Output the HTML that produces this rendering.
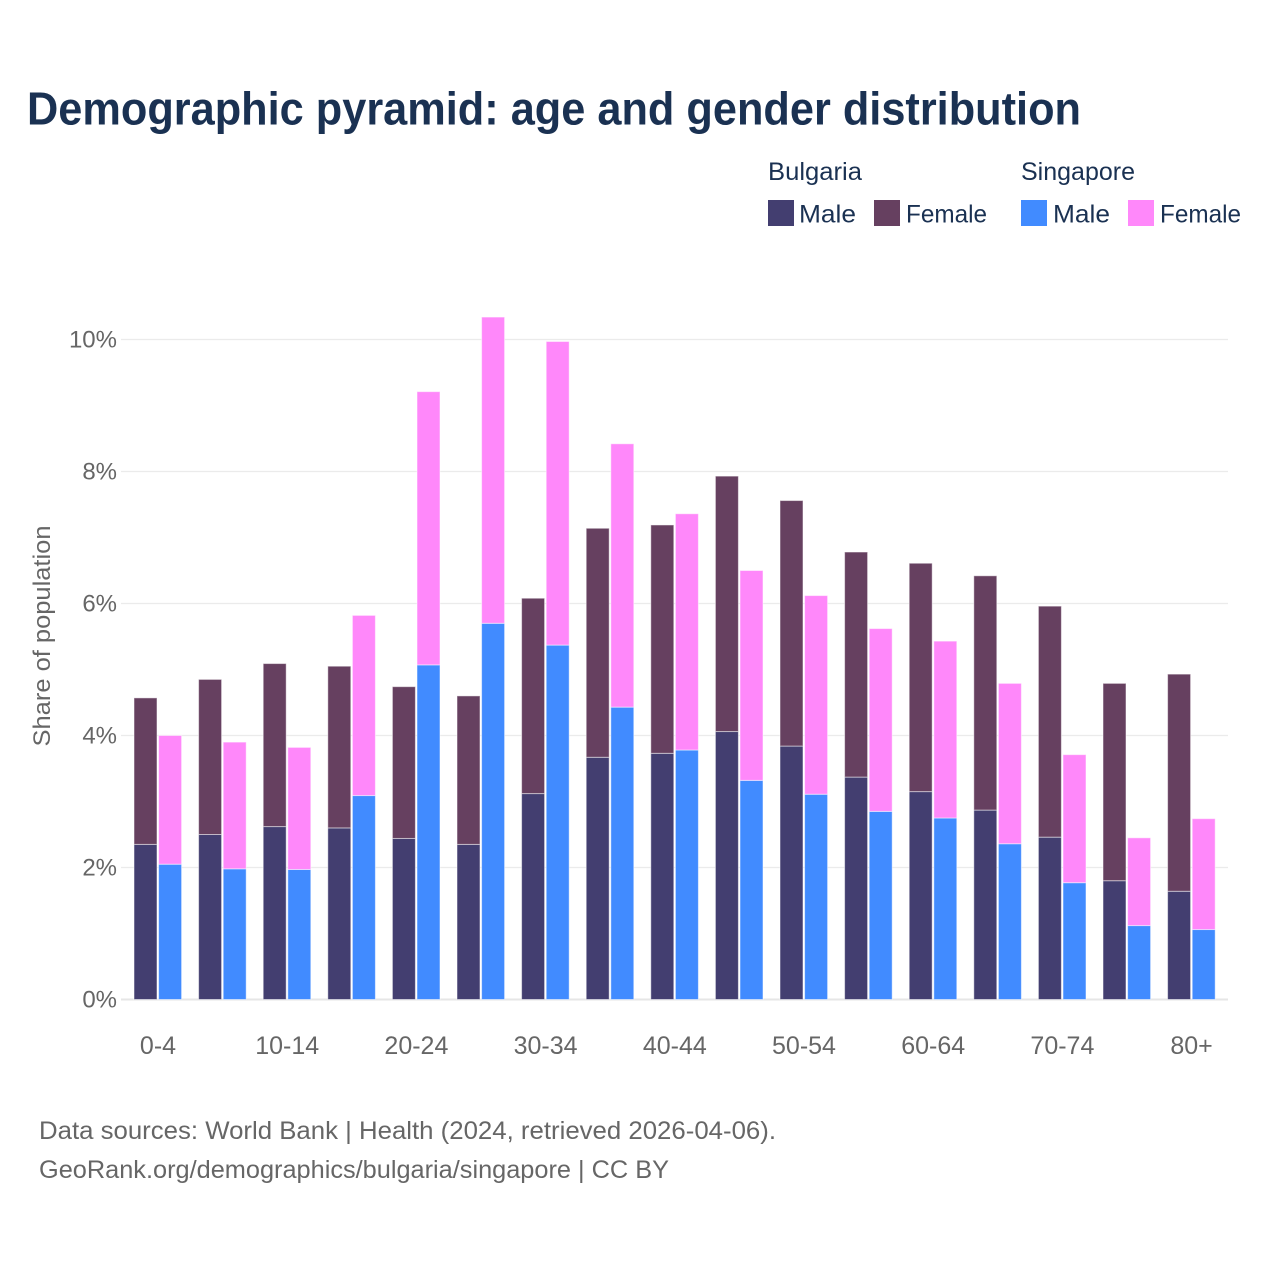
<!DOCTYPE html>
<html lang="en">
<head>
<meta charset="utf-8">
<title>Demographic pyramid: age and gender distribution</title>
<style>
html,body{margin:0;padding:0;background:#fff;}
svg{display:block;}
text{font-family:"Liberation Sans",sans-serif;}
</style>
</head>
<body>
<svg id="chart" xmlns="http://www.w3.org/2000/svg" width="1280" height="1280" viewBox="0 0 1280 1280">
  <rect x="0" y="0" width="1280" height="1280" fill="#ffffff"/>
  <text x="27" y="124.5" font-size="46" font-weight="700" fill="#1a3152" textLength="1054" lengthAdjust="spacingAndGlyphs">Demographic pyramid: age and gender distribution</text>

  <g>
    <text x="768" y="180" font-size="25" fill="#1a3152" textLength="94" lengthAdjust="spacingAndGlyphs">Bulgaria</text>
    <text x="1021" y="180" font-size="25" fill="#1a3152" textLength="114" lengthAdjust="spacingAndGlyphs">Singapore</text>
    <rect x="768" y="200" width="26" height="26" fill="#433e70"/>
    <text x="799" y="222.5" font-size="25" fill="#1a3152" textLength="57" lengthAdjust="spacingAndGlyphs">Male</text>
    <rect x="874" y="200" width="26" height="26" fill="#664060"/>
    <text x="906" y="222.5" font-size="25" fill="#1a3152" textLength="81" lengthAdjust="spacingAndGlyphs">Female</text>
    <rect x="1021" y="200" width="26" height="26" fill="#418bff"/>
    <text x="1053" y="222.5" font-size="25" fill="#1a3152" textLength="57" lengthAdjust="spacingAndGlyphs">Male</text>
    <rect x="1128" y="200" width="26" height="26" fill="#ff88fa"/>
    <text x="1160" y="222.5" font-size="25" fill="#1a3152" textLength="81" lengthAdjust="spacingAndGlyphs">Female</text>
  </g>

  <g id="grid"></g>
  <g id="bars"></g>
  <g id="ylabels"></g>
  <g id="xlabels"></g>

  <text transform="translate(50,636) rotate(-90)" text-anchor="middle" font-size="24" fill="#666666" textLength="221" lengthAdjust="spacingAndGlyphs">Share of population</text>

  <text x="39" y="1139" font-size="25" fill="#666666" textLength="737" lengthAdjust="spacingAndGlyphs">Data sources: World Bank | Health (2024, retrieved 2026-04-06).</text>
  <text x="39" y="1178" font-size="25" fill="#666666" textLength="630" lengthAdjust="spacingAndGlyphs">GeoRank.org/demographics/bulgaria/singapore | CC BY</text>
</svg>
<script>
const categories = ['0-4','5-9','10-14','15-19','20-24','25-29','30-34','35-39','40-44','45-49','50-54','55-59','60-64','65-69','70-74','75-79','80+'];
const shownCategories = ['0-4','10-14','20-24','30-34','40-44','50-54','60-64','70-74','80+'];
const bulgariaMale = [2.35,2.50,2.62,2.60,2.44,2.35,3.12,3.67,3.73,4.06,3.84,3.37,3.15,2.87,2.46,1.80,1.64];
const bulgariaFemale = [2.22,2.35,2.47,2.45,2.30,2.25,2.96,3.47,3.46,3.87,3.72,3.41,3.46,3.55,3.50,2.99,3.29];
const singaporeMale = [2.05,1.98,1.97,3.09,5.07,5.70,5.37,4.43,3.78,3.32,3.11,2.85,2.75,2.36,1.77,1.12,1.06];
const singaporeFemale = [1.95,1.92,1.85,2.73,4.14,4.64,4.60,3.99,3.58,3.18,3.01,2.77,2.68,2.43,1.94,1.33,1.68];
const yTicks = [0,2,4,6,8,10];

const SVGNS = 'http://www.w3.org/2000/svg';
const yScale = v => 999.5 - v * 66;
const xScale = i => 134 + i * 64.6;
const barWidth = 23;
const barGap = 24.6;

const gridG = document.getElementById('grid');
const ylabG = document.getElementById('ylabels');
yTicks.forEach(t => {
  const l = document.createElementNS(SVGNS, 'line');
  
  
  l.setAttribute('x1', 121);
  l.setAttribute('x2', 1228);
  l.setAttribute('y1', yScale(t));
  l.setAttribute('y2', yScale(t));
  l.setAttribute('stroke', t === 0 ? '#e6e6e6' : '#ebebeb');
  l.setAttribute('stroke-width', t === 0 ? 2 : 1.2);
  gridG.appendChild(l);
  const tx = document.createElementNS(SVGNS, 'text');
  
  
  tx.setAttribute('x', 117);
  tx.setAttribute('y', yScale(t) + 8);
  tx.setAttribute('text-anchor', 'end');
  tx.setAttribute('font-size', 24);
  tx.setAttribute('fill', '#666666');
  tx.textContent = t + '%';
  ylabG.appendChild(tx);
});

const barsG = document.getElementById('bars');
function drawBar(x, base, val, color, name) {
  const r = document.createElementNS(SVGNS, 'rect');
  
  
  r.setAttribute('x', x);
  r.setAttribute('y', yScale(base + val));
  r.setAttribute('width', barWidth);
  r.setAttribute('height', yScale(base) - yScale(base + val));
  r.setAttribute('fill', color);
  r.setAttribute('stroke', '#ffffff');
  r.setAttribute('stroke-opacity', '0.5');
  r.setAttribute('stroke-width', 1);
  barsG.appendChild(r);
}
categories.forEach((c, i) => {
  const x = xScale(i);
  drawBar(x, 0, bulgariaMale[i], '#433e70', 'bar-bulgaria-male');
  drawBar(x, bulgariaMale[i], bulgariaFemale[i], '#664060', 'bar-bulgaria-female');
  drawBar(x + barGap, 0, singaporeMale[i], '#418bff', 'bar-singapore-male');
  drawBar(x + barGap, singaporeMale[i], singaporeFemale[i], '#ff88fa', 'bar-singapore-female');
});

const xlabG = document.getElementById('xlabels');
categories.forEach((c, i) => {
  if (shownCategories.indexOf(c) < 0) return;
  const tx = document.createElementNS(SVGNS, 'text');
  
  
  tx.setAttribute('x', xScale(i) + 24);
  tx.setAttribute('y', 1054);
  tx.setAttribute('text-anchor', 'middle');
  tx.setAttribute('font-size', 25);
  tx.setAttribute('fill', '#666666');
  tx.textContent = c;
  xlabG.appendChild(tx);
});
</script>
</body>
</html>
